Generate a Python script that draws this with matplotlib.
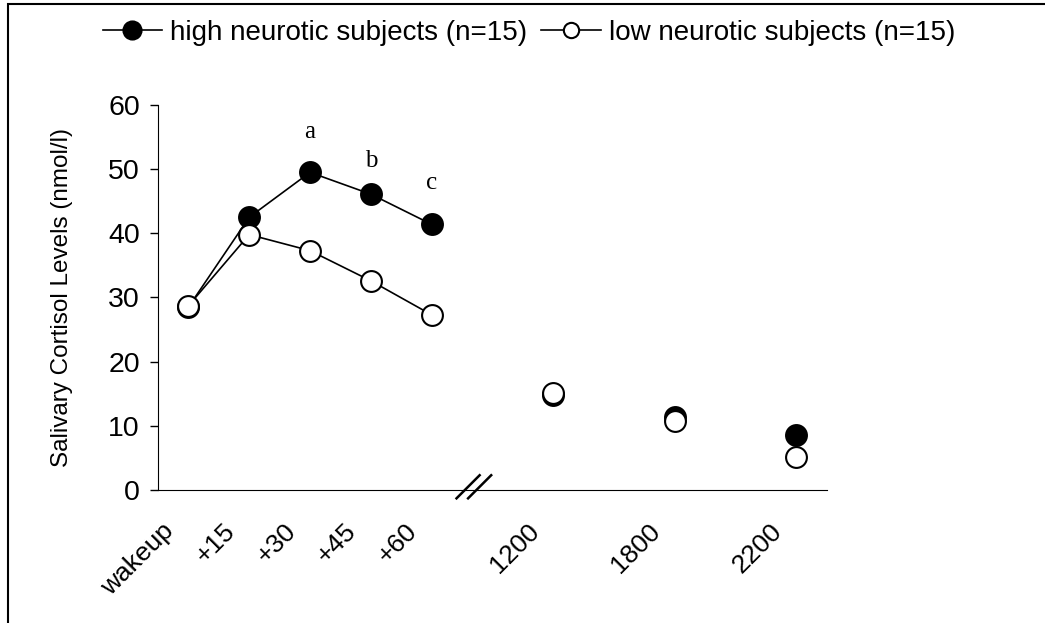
#Salivary cortisol profile, high vs low neurotic subjects
import matplotlib
matplotlib.use('Agg')
import matplotlib.pyplot as plt
from matplotlib.lines import Line2D
from matplotlib.patches import Rectangle
from matplotlib.transforms import ScaledTranslation

plt.rcParams['font.family'] = ['Liberation Sans', 'DejaVu Sans']

times = ['wakeup', '+15', '+30', '+45', '+60', '1200', '1800', '2200']
pos = [0, 1, 2, 3, 4, 6, 8, 10]
high = [28.5, 42.5, 49.5, 46.1, 41.4, 14.8, 11.3, 8.6]
low = [28.7, 39.8, 37.3, 32.6, 27.3, 15.1, 10.8, 5.1]
letters = ['a', 'b', 'c']
letter_pos = [2, 3, 4]
letter_y = [55.8, 51.3, 47.9]

fig = plt.figure(figsize=(10.45, 6.23), dpi=100)
ax = fig.add_axes([0.1512, 0.2135, 0.64, 0.618])

mk = dict(marker='o', markersize=15, markeredgewidth=1.5, markeredgecolor='black')
# morning samples joined by lines, daytime samples as single points
ax.plot(pos[:5], high[:5], color='black', lw=1.2, markerfacecolor='black', **mk, zorder=3)
ax.plot(pos[:5], low[:5], color='black', lw=1.2, markerfacecolor='white', **mk, zorder=4)
ax.plot(pos[5:], high[5:], ls='none', markerfacecolor='black', **mk, zorder=3)
ax.plot(pos[5:], low[5:], ls='none', markerfacecolor='white', **mk, zorder=4)

for t, x, y in zip(letters, letter_pos, letter_y):
    ax.text(x, y, t, ha='center', va='center', fontsize=18, family='Liberation Serif')

ax.set_xlim(-0.5, 10.5)
ax.set_ylim(0, 60)
ax.set_yticks(range(0, 61, 10))
ax.tick_params(axis='y', direction='out', length=6, width=1, labelsize=20.5, pad=7)
ax.set_xticks(pos)
ax.set_xticklabels(times, rotation=45, ha='right', va='center', rotation_mode='anchor', fontsize=19)
ax.tick_params(axis='x', length=0, pad=27)
shift = ScaledTranslation(-0.18, 0, fig.dpi_scale_trans)
for lab in ax.get_xticklabels():
    lab.set_transform(lab.get_transform() + shift)
ax.spines['top'].set_visible(False)
ax.spines['right'].set_visible(False)
ax.set_ylabel('Salivary Cortisol Levels (nmol/l)', fontsize=17.5, labelpad=25)

# axis break marks
for x0 in [4.41, 4.6]:
    ax.plot([x0, x0 + 0.38], [-1.3, 2.3], color='black', lw=1.8, clip_on=False)

h1 = Line2D([], [], color='black', lw=1.2, markerfacecolor='black', **mk)
h2 = Line2D([], [], color='black', lw=1.2, markerfacecolor='white', **mk)
h1.set_markersize(13)
h2.set_markersize(11)
fig.legend([h1, h2], ['high neurotic subjects (n=15)', 'low neurotic subjects (n=15)'],
           loc='center', bbox_to_anchor=(0.506, 0.947), ncol=2, frameon=False,
           fontsize=20, handlelength=2.15, handletextpad=0.28, columnspacing=0.5)

fig.patches.append(Rectangle((8 / 1045, -0.1), 1.2, 0.1 + (623 - 4.5) / 623, transform=fig.transFigure,
                             fill=False, edgecolor='black', lw=1.5))

fig.savefig('out.png', dpi=100)
